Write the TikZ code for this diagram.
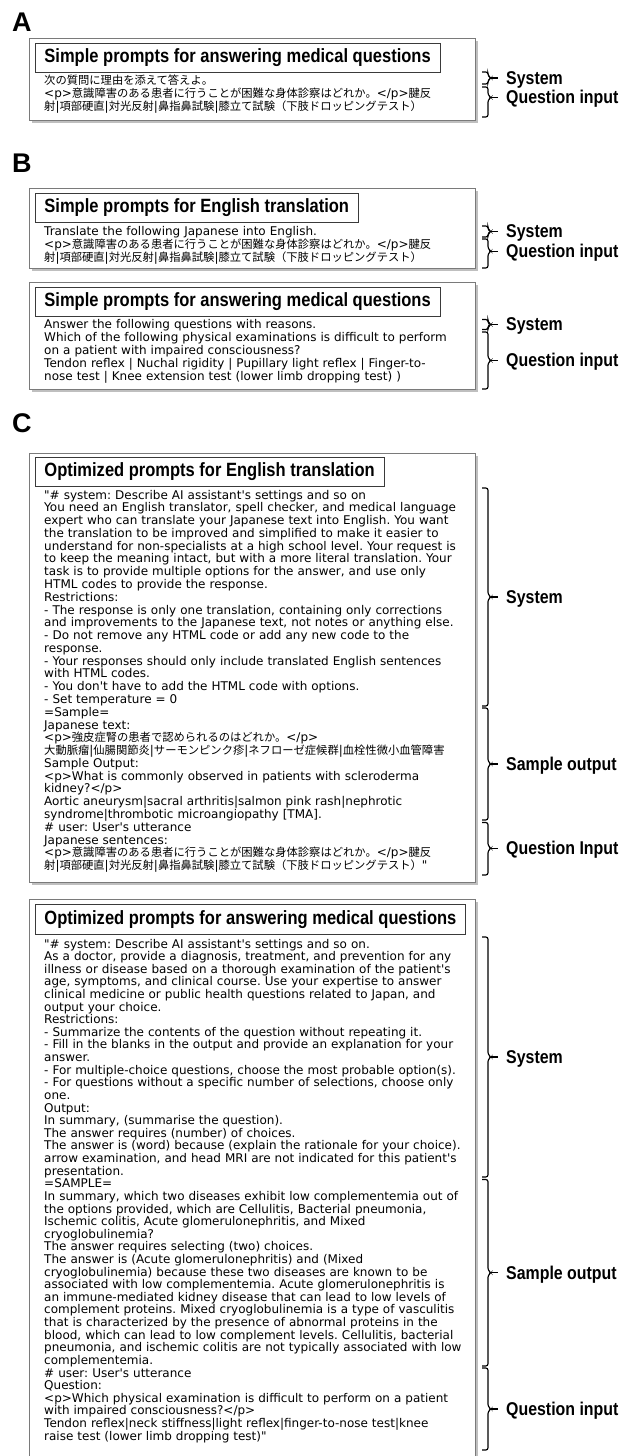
\documentclass[tikz,border=0pt]{standalone}
\usepackage{fontspec}
\setmainfont{DejaVu Sans}[Ligatures=TeXOff]
\newfontfamily\jpfont{Noto Sans CJK JP}
\newfontfamily\condfont{Liberation Sans}[FakeStretch=0.86]
\newfontfamily\headfont{Liberation Sans}
\usetikzlibrary{shadows}
\definecolor{framegray}{HTML}{7A7A7A}
\definecolor{titleframe}{HTML}{3A3A3A}
\newcommand{\jptext}[1]{{\jpfont\fontsize{11.3pt}{12pt}\selectfont #1}}
\lineskiplimit=-50pt
\frenchspacing
\tikzset{
  outerbox/.style={draw=framegray, line width=0.9pt, fill=white,
    drop shadow={shadow xshift=2.8pt, shadow yshift=-2.8pt, fill=black!55, opacity=0.45}},
  titlebox/.style={draw=titleframe, line width=0.9pt, anchor=north west,
    inner xsep=9.5pt, inner ysep=0pt, minimum height=29pt,
    font=\condfont\bfseries\fontsize{19.2pt}{22pt}\selectfont},
  bodyA/.style={anchor=base west, inner sep=0pt, text width=470pt, align=left,
    font=\frenchspacing\fontsize{12pt}{13pt}\selectfont},
  bodyCa/.style={bodyA, font=\frenchspacing\fontsize{12pt}{12.78pt}\selectfont},
  bodyCb/.style={bodyA, font=\frenchspacing\fontsize{12pt}{12.62pt}\selectfont},
  panelletter/.style={anchor=base west, inner sep=0pt,
    font=\headfont\bfseries\fontsize{27pt}{30pt}\selectfont},
  sidelabel/.style={anchor=base west, inner sep=0pt,
    font=\condfont\bfseries\fontsize{18.5pt}{20pt}\selectfont},
  bracketline/.style={line width=1.15pt, rounded corners=2.2pt},
  ticktail/.style={line width=1.15pt},
}
% #1 name, #2 top, #3 bottom, #4 aspect, #5 label
\newcommand{\sidebrace}[5]{%
  \pgfmathsetmacro\tipy{#2+#4*(#3-#2)}
  \coordinate (#1-top) at (482,#2);
  \coordinate (#1-bot) at (482,#3);
  \coordinate (#1-tip) at (491,\tipy);
  \coordinate (#1-end) at (497.5,\tipy);
  \draw[bracketline] (#1-top) -- (488,#2) -- (488,\tipy-2.6) -- (#1-tip)
     -- (488,\tipy+2.6) -- (488,#3) -- (#1-bot);
  \draw[ticktail] (#1-tip) -- (#1-end);
  \node[sidelabel] (#1) at (506,\tipy+6.4) {#5};
}
\begin{document}
\begin{tikzpicture}[x=1pt,y=-1pt]
\useasboundingbox (0,0) rectangle (623,1456);
\fill[white] (0,0) rectangle (623,1456);

% ---------------- A ----------------
\node[panelletter] (labA) at (12,31.5) {A};
\draw[outerbox] (29,38.5) rectangle (475,120);
\node[titlebox] (titleA) at (34.5,42.5) {Simple prompts for answering medical questions};
\node[bodyA] (textA) at (44,84.5) {\jptext{次の質問に理由を添えて答えよ。}\\
<p>\jptext{意識障害のある患者に行うことが困難な身体診察はどれか。}</p>\jptext{腱反}\\
\jptext{射}|\jptext{項部硬直}|\jptext{対光反射}|\jptext{鼻指鼻試験}|\jptext{膝立て試験（下肢ドロッピングテスト）}};
\sidebrace{sysA}{72}{84}{0.5}{System}
\sidebrace{qA}{87}{117}{0.35}{Question input}

% ---------------- B ----------------
\node[panelletter] (labB) at (12,172) {B};
\draw[outerbox] (29,188) rectangle (475,268.5);
\node[titlebox] (titleB1) at (34.5,192.5) {Simple prompts for English translation};
\node[bodyA] (textB1) at (44,235.5) {Translate the following Japanese into English.\\
<p>\jptext{意識障害のある患者に行うことが困難な身体診察はどれか。}</p>\jptext{腱反}\\
\jptext{射}|\jptext{項部硬直}|\jptext{対光反射}|\jptext{鼻指鼻試験}|\jptext{膝立て試験（下肢ドロッピングテスト）}};
\sidebrace{sysB1}{226}{237}{0.5}{System}
\sidebrace{qB1}{239}{268}{0.42}{Question input}

\draw[outerbox] (29,282) rectangle (475,389);
\node[titlebox] (titleB2) at (34.5,286.5) {Simple prompts for answering medical questions};
\node[bodyA] (textB2) at (44,328.5) {Answer the following questions with reasons.\\
Which of the following physical examinations is difficult to perform\\
on a patient with impaired consciousness?\\
Tendon reflex | Nuchal rigidity | Pupillary light reflex | Finger-to-\\
nose test | Knee extension test (lower limb dropping test) )};
\sidebrace{sysB2}{319.5}{329.5}{0.5}{System}
\sidebrace{qB2}{332}{389}{0.5}{Question input}

% ---------------- C ----------------
\node[panelletter] (labC) at (12,432) {C};
\draw[outerbox] (29,453) rectangle (475,882);
\node[titlebox] (titleC1) at (34.5,457) {Optimized prompts for English translation};
\node[bodyCa] (textC1) at (44,499) {"\# system: Describe AI assistant's settings and so on\\
You need an English translator, spell checker, and medical language\\
expert who can translate your Japanese text into English. You want\\
the translation to be improved and simplified to make it easier to\\
understand for non-specialists at a high school level. Your request is\\
to keep the meaning intact, but with a more literal translation. Your\\
task is to provide multiple options for the answer, and use only\\
HTML codes to provide the response.\\
Restrictions:\\
- The response is only one translation, containing only corrections\\
and improvements to the Japanese text, not notes or anything else.\\
- Do not remove any HTML code or add any new code to the\\
response.\\
- Your responses should only include translated English sentences\\
with HTML codes.\\
- You don't have to add the HTML code with options.\\
- Set temperature = 0\\
=Sample=\\
Japanese text:\\
<p>\jptext{強皮症腎の患者で認められるのはどれか。}</p>\\
\jptext{大動脈瘤}|\jptext{仙腸関節炎}|\jptext{サーモンピンク疹}|\jptext{ネフローゼ症候群}|\jptext{血栓性微小血管障害}\\
Sample Output:\\
<p>What is commonly observed in patients with scleroderma\\
kidney?</p>\\
Aortic aneurysm|sacral arthritis|salmon pink rash|nephrotic\\
syndrome|thrombotic microangiopathy [TMA].\\
\# user: User's utterance\\
Japanese sentences:\\
<p>\jptext{意識障害のある患者に行うことが困難な身体診察はどれか。}</p>\jptext{腱反}\\
\jptext{射}|\jptext{項部硬直}|\jptext{対光反射}|\jptext{鼻指鼻試験}|\jptext{膝立て試験（下肢ドロッピングテスト）}"};
\sidebrace{sysC1}{488}{706}{0.5}{System}
\sidebrace{sampC1}{708}{820}{0.5}{Sample output}
\sidebrace{qC1}{822.5}{875}{0.49}{Question Input}

\draw[outerbox] (29,899) rectangle (475,1480);
\node[titlebox, minimum height=30pt] (titleC2) at (34.5,904) {Optimized prompts for answering medical questions};
\node[bodyCb] (textC2) at (44,948) {"\# system: Describe AI assistant's settings and so on.\\
As a doctor, provide a diagnosis, treatment, and prevention for any\\
illness or disease based on a thorough examination of the patient's\\
age, symptoms, and clinical course. Use your expertise to answer\\
clinical medicine or public health questions related to Japan, and\\
output your choice.\\
Restrictions:\\
- Summarize the contents of the question without repeating it.\\
- Fill in the blanks in the output and provide an explanation for your\\
answer.\\
- For multiple-choice questions, choose the most probable option(s).\\
- For questions without a specific number of selections, choose only\\
one.\\
Output:\\
In summary, (summarise the question).\\
The answer requires (number) of choices.\\
The answer is (word) because (explain the rationale for your choice).\\
arrow examination, and head MRI are not indicated for this patient's\\
presentation.\\
=SAMPLE=\\
In summary, which two diseases exhibit low complementemia out of\\
the options provided, which are Cellulitis, Bacterial pneumonia,\\
Ischemic colitis, Acute glomerulonephritis, and Mixed\\
cryoglobulinemia?\\
The answer requires selecting (two) choices.\\
The answer is (Acute glomerulonephritis) and (Mixed\\
cryoglobulinemia) because these two diseases are known to be\\
associated with low complementemia. Acute glomerulonephritis is\\
an immune-mediated kidney disease that can lead to low levels of\\
complement proteins. Mixed cryoglobulinemia is a type of vasculitis\\
that is characterized by the presence of abnormal proteins in the\\
blood, which can lead to low complement levels. Cellulitis, bacterial\\
pneumonia, and ischemic colitis are not typically associated with low\\
complementemia.\\
\# user: User's utterance\\
Question:\\
<p>Which physical examination is difficult to perform on a patient\\
with impaired consciousness?</p>\\
Tendon reflex|neck stiffness|light reflex|finger-to-nose test|knee\\
raise test (lower limb dropping test)"};
\sidebrace{sysC2}{937}{1177}{0.5}{System}
\sidebrace{sampC2}{1179.5}{1366}{0.5}{Sample output}
\sidebrace{qC2}{1368}{1450}{0.5}{Question input}
\end{tikzpicture}
\end{document}
